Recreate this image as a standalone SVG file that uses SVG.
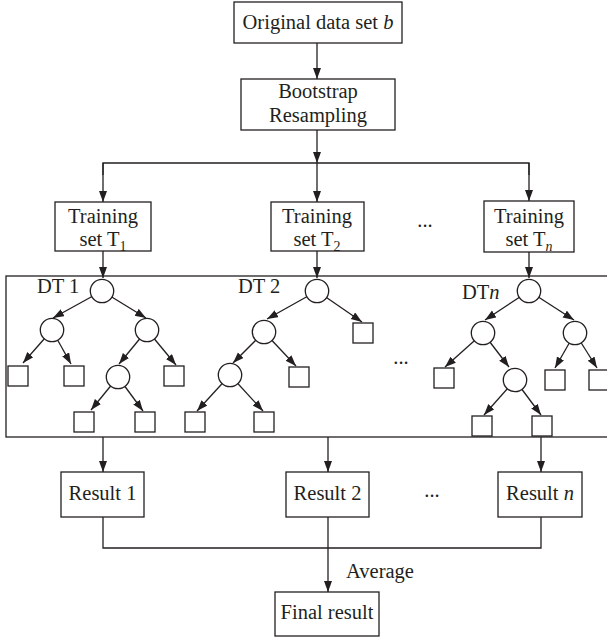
<svg xmlns="http://www.w3.org/2000/svg" width="607" height="640" viewBox="0 0 607 640">
<defs>
<marker id="ah" markerUnits="userSpaceOnUse" markerWidth="12" markerHeight="9" refX="11" refY="4" orient="auto">
<path d="M0,0 L11,4 L0,8 z" fill="#231f20"/>
</marker>
<style>
.box{fill:#fff;stroke:#231f20;stroke-width:1.3}
.nd{fill:#fff;stroke:#231f20;stroke-width:1.3}
.ln{fill:none;stroke:#231f20;stroke-width:1.3}
.ar{fill:none;stroke:#231f20;stroke-width:1.3;marker-end:url(#ah)}
text{font-family:"Liberation Serif","Times New Roman",serif;font-size:20.5px;fill:#231f20}
.c{text-anchor:middle}
.i{font-style:italic}
.sub{font-size:14px}
</style>
</defs>
<rect width="607" height="640" fill="#fff"/>

<g id="connectors">
<line class="ar" x1="317" y1="43" x2="317" y2="79"/>
<line class="ar" x1="317" y1="130" x2="317" y2="163"/>
<polyline class="ln" points="103,175 103,163 529,163 529,175"/>
<line class="ar" x1="103" y1="163" x2="103" y2="202"/>
<line class="ar" x1="317" y1="163" x2="317" y2="202"/>
<line class="ar" x1="529" y1="163" x2="529" y2="201"/>
<line class="ar" x1="103" y1="251" x2="103" y2="278"/>
<line class="ar" x1="317" y1="251" x2="317" y2="278"/>
<line class="ar" x1="529" y1="252" x2="529" y2="278"/>
<line class="ar" x1="103" y1="437" x2="103" y2="472"/>
<line class="ar" x1="328" y1="437" x2="328" y2="472"/>
<line class="ar" x1="541" y1="437" x2="541" y2="472"/>
<polyline class="ln" points="103,517 103,548 541,548 541,517"/>
<line class="ar" x1="328" y1="517" x2="328" y2="592"/>
</g>

<g id="container">
<rect x="6" y="276" width="620" height="161" fill="none" stroke="#231f20" stroke-width="1.3"/>
</g>

<g id="tree-edges">
<line class="ar" x1="102" y1="291" x2="53" y2="318"/>
<line class="ar" x1="102" y1="291" x2="146" y2="318"/>
<line class="ar" x1="52" y1="330" x2="23" y2="363"/>
<line class="ar" x1="52" y1="330" x2="71" y2="364"/>
<line class="ar" x1="147" y1="330" x2="119" y2="364"/>
<line class="ar" x1="147" y1="330" x2="176" y2="365"/>
<line class="ar" x1="118" y1="377" x2="91" y2="410"/>
<line class="ar" x1="118" y1="377" x2="143" y2="411"/>

<line class="ar" x1="317" y1="291" x2="267" y2="319"/>
<line class="ar" x1="317" y1="291" x2="362" y2="322"/>
<line class="ar" x1="264" y1="332" x2="233" y2="363"/>
<line class="ar" x1="264" y1="332" x2="296" y2="366"/>
<line class="ar" x1="230" y1="375" x2="197" y2="411"/>
<line class="ar" x1="230" y1="375" x2="263" y2="411"/>

<line class="ar" x1="529" y1="291" x2="485" y2="320"/>
<line class="ar" x1="529" y1="291" x2="574" y2="320"/>
<line class="ar" x1="483" y1="333" x2="445" y2="367"/>
<line class="ar" x1="483" y1="333" x2="509" y2="367"/>
<line class="ar" x1="515" y1="380" x2="484" y2="415"/>
<line class="ar" x1="515" y1="380" x2="541" y2="415"/>
<line class="ar" x1="575" y1="333" x2="555" y2="368"/>
<line class="ar" x1="575" y1="333" x2="597" y2="368"/>
</g>

<g id="original">
<rect class="box" x="234" y="2" width="168" height="41"/>
<text class="c" x="318" y="29">Original data set <tspan class="i">b</tspan></text>
</g>
<g id="bootstrap">
<rect class="box" x="241" y="79" width="154" height="51"/>
<text class="c" x="318" y="98">Bootstrap</text>
<text class="c" x="318" y="122">Resampling</text>
</g>
<g id="train1">
<rect class="box" x="55" y="202" width="96" height="49"/>
<text class="c" x="103" y="223">Training</text>
<text class="c" x="103" y="246">set T<tspan class="sub" dy="5">1</tspan></text>
</g>
<g id="train2">
<rect class="box" x="271" y="202" width="93" height="49"/>
<text class="c" x="317" y="223">Training</text>
<text class="c" x="317" y="246">set T<tspan class="sub" dy="5">2</tspan></text>
</g>
<g id="trainn">
<rect class="box" x="484" y="201" width="90" height="51"/>
<text class="c" x="529" y="223">Training</text>
<text class="c" x="529" y="246">set T<tspan class="sub i" dy="5">n</tspan></text>
</g>
<g id="dots1"><text class="c" x="425" y="227">...</text></g>

<g id="dt1">
<text x="37" y="293">DT 1</text>
<circle class="nd" cx="102" cy="291" r="11.7"/>
<circle class="nd" cx="52" cy="330" r="11.7"/>
<circle class="nd" cx="147" cy="330" r="11.7"/>
<circle class="nd" cx="118" cy="377" r="11.7"/>
<rect class="nd" x="8" y="366" width="20" height="20"/>
<rect class="nd" x="64" y="366" width="20" height="20"/>
<rect class="nd" x="164" y="366" width="20" height="20"/>
<rect class="nd" x="74" y="412" width="20" height="20"/>
<rect class="nd" x="135" y="412" width="20" height="20"/>
</g>
<g id="dt2">
<text x="238" y="293">DT 2</text>
<circle class="nd" cx="317" cy="291" r="11.7"/>
<circle class="nd" cx="264" cy="332" r="11.7"/>
<circle class="nd" cx="230" cy="375" r="11.7"/>
<rect class="nd" x="353" y="323" width="20" height="20"/>
<rect class="nd" x="289" y="367" width="20" height="20"/>
<rect class="nd" x="185" y="412" width="20" height="20"/>
<rect class="nd" x="254" y="412" width="20" height="20"/>
</g>
<g id="dots2"><text class="c" x="401" y="364">...</text></g>
<g id="dtn">
<text x="462" y="299">DT<tspan class="i">n</tspan></text>
<circle class="nd" cx="529" cy="291" r="11.7"/>
<circle class="nd" cx="483" cy="333" r="11.7"/>
<circle class="nd" cx="575" cy="333" r="11.7"/>
<circle class="nd" cx="515" cy="380" r="11.7"/>
<rect class="nd" x="434" y="368" width="20" height="20"/>
<rect class="nd" x="472" y="416" width="20" height="20"/>
<rect class="nd" x="532" y="416" width="20" height="20"/>
<rect class="nd" x="545" y="370" width="20" height="20"/>
<rect class="nd" x="589" y="370" width="20" height="20"/>
</g>

<g id="result1">
<rect class="box" x="61" y="472" width="83" height="45"/>
<text class="c" x="102.5" y="500">Result 1</text>
</g>
<g id="result2">
<rect class="box" x="286" y="472" width="83" height="45"/>
<text class="c" x="327.5" y="500">Result 2</text>
</g>
<g id="dots3"><text class="c" x="432" y="497">...</text></g>
<g id="resultn">
<rect class="box" x="498" y="472" width="84" height="45"/>
<text class="c" x="540" y="500">Result <tspan class="i">n</tspan></text>
</g>
<g id="average"><text x="346" y="578">Average</text></g>
<g id="final">
<rect class="box" x="275" y="592" width="104" height="44"/>
<text class="c" x="327" y="619">Final result</text>
</g>
</svg>
